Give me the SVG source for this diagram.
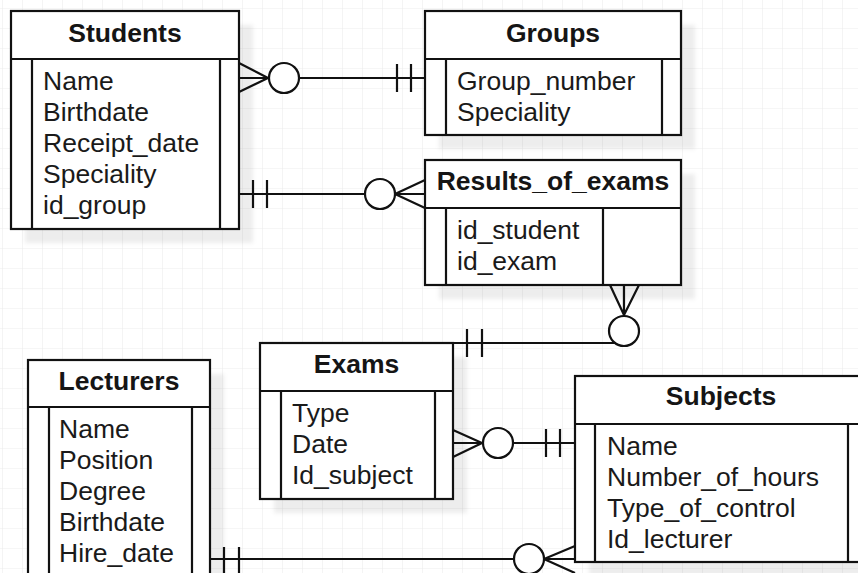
<svg xmlns="http://www.w3.org/2000/svg" width="858" height="573" viewBox="0 0 858 573">
<defs>
<pattern id="grid" x="2" y="8" width="20" height="20" patternUnits="userSpaceOnUse">
<path d="M0 0H20M0 0V20" fill="none" stroke="#ededed" stroke-width="1.2"/>
</pattern>
<filter id="blur" x="-10%" y="-10%" width="120%" height="120%"><feGaussianBlur stdDeviation="2"/></filter>
</defs>
<style>
.box{fill:#fff;stroke:#111;stroke-width:2.2}
.ln{fill:none;stroke:#111;stroke-width:2.2}
.sh{fill:#000;fill-opacity:0.07;filter:url(#blur)}
.t{font-family:"Liberation Sans",Arial,sans-serif;font-size:26.5px;font-weight:bold;fill:#151515;text-anchor:middle}
.f{font-family:"Liberation Sans",Arial,sans-serif;font-size:26.5px;fill:#1a1a1a}
.c{fill:#fff;stroke:#111;stroke-width:2.2}
</style>
<rect width="858" height="573" fill="#fff"/>
<rect width="858" height="573" fill="url(#grid)"/>

<g id="students">
<rect class="sh" x="25" y="25" width="228" height="218"/>
<rect class="box" x="11" y="11" width="228" height="218"/>
<path class="ln" d="M11 59H239M32 59V229M220 59V229"/>
<text class="t" x="125" y="42">Students</text>
<text class="f" x="43" y="90">Name</text>
<text class="f" x="43" y="121">Birthdate</text>
<text class="f" x="43" y="152">Receipt_date</text>
<text class="f" x="43" y="183">Speciality</text>
<text class="f" x="43" y="214">id_group</text>
</g>

<g id="groups">
<rect class="sh" x="439" y="25" width="256" height="124"/>
<rect class="box" x="425" y="11" width="256" height="124"/>
<path class="ln" d="M425 59H681M446 59V135M662 59V135"/>
<text class="t" x="553" y="42">Groups</text>
<text class="f" x="457" y="90">Group_number</text>
<text class="f" x="457" y="121">Speciality</text>
</g>

<g id="results_of_exams">
<rect class="sh" x="439" y="174" width="256" height="125"/>
<rect class="box" x="425" y="160" width="256" height="125"/>
<path class="ln" d="M425 208H681M446 208V285M603 208V285"/>
<text class="t" x="553" y="190">Results_of_exams</text>
<text class="f" x="457" y="239">id_student</text>
<text class="f" x="457" y="270">id_exam</text>
</g>

<g id="exams">
<rect class="sh" x="274" y="357" width="193" height="156"/>
<rect class="box" x="260" y="343" width="193" height="156"/>
<path class="ln" d="M260 391H453M281 391V499M435 391V499"/>
<text class="t" x="356.5" y="373">Exams</text>
<text class="f" x="292" y="422">Type</text>
<text class="f" x="292" y="453">Date</text>
<text class="f" x="292" y="484">Id_subject</text>
</g>

<g id="lecturers">
<rect class="sh" x="42" y="374" width="182" height="230"/>
<rect class="box" x="28" y="360" width="182" height="230"/>
<path class="ln" d="M28 407H210M49 407V590M192 407V590"/>
<text class="t" x="119" y="390">Lecturers</text>
<text class="f" x="59" y="438">Name</text>
<text class="f" x="59" y="469">Position</text>
<text class="f" x="59" y="500">Degree</text>
<text class="f" x="59" y="531">Birthdate</text>
<text class="f" x="59" y="562">Hire_date</text>
</g>

<g id="subjects">
<rect class="sh" x="589" y="390" width="292" height="186"/>
<rect class="box" x="575" y="376" width="292" height="186"/>
<path class="ln" d="M575 424H867M595 424V562M848 424V562"/>
<text class="t" x="721" y="405">Subjects</text>
<text class="f" x="607" y="455">Name</text>
<text class="f" x="607" y="486">Number_of_hours</text>
<text class="f" x="607" y="517">Type_of_control</text>
<text class="f" x="607" y="548">Id_lecturer</text>
</g>

<g id="connectors">
<!-- Students - Groups -->
<path class="ln" d="M239 63L268 78L239 92M239 78H269M299 78H425M397 64V92M411 64V92"/>
<circle class="c" cx="284" cy="78" r="15"/>
<!-- Students - Results_of_exams -->
<path class="ln" d="M239 194H365M253 180V208M267 180V208M425 180L395 194L425 208M395 194H425"/>
<circle class="c" cx="380" cy="194" r="15"/>
<!-- Results_of_exams - Exams -->
<path class="ln" d="M610 285L624 315L639 285M624 285V316M453 343H615M467 329V357M482 329V357"/>
<circle class="c" cx="624" cy="331" r="15"/>
<!-- Exams - Subjects -->
<path class="ln" d="M453 430L482 443L453 457M453 443H483M513 443H575M546 429V457M560 429V457"/>
<circle class="c" cx="498" cy="443" r="15"/>
<!-- Lecturers - Subjects -->
<path class="ln" d="M210 559H514M224 547V573M239 547V573M575 546L544 559L575 573M544 559H575"/>
<circle class="c" cx="529" cy="559" r="15"/>
</g>
</svg>
